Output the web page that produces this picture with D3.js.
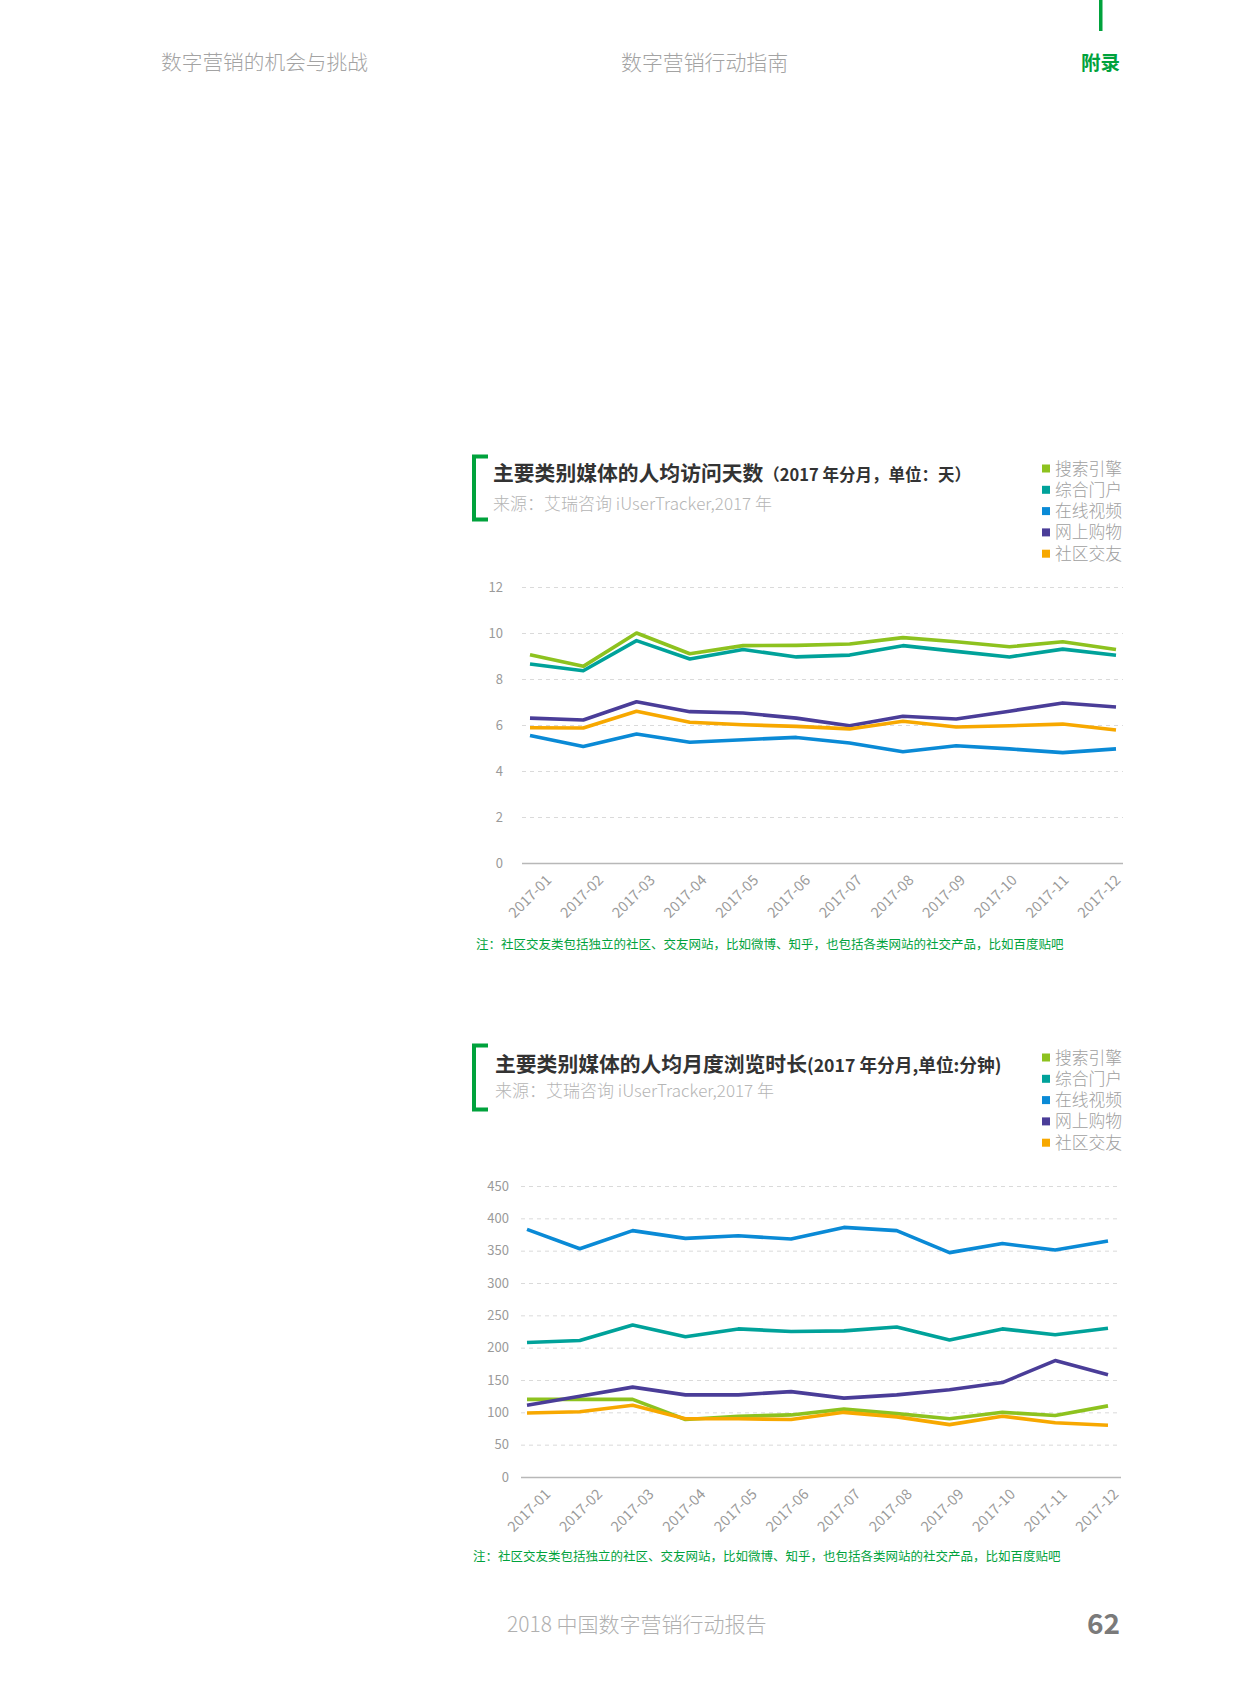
<!DOCTYPE html>
<html><head><meta charset="utf-8">
<script src="https://cdn.jsdelivr.net/npm/d3@7"></script>
<style>
html,body{margin:0;padding:0;background:#fff;}
svg{display:block;}
</style></head>
<body>
<svg id="page" width="1240" height="1683"></svg>
<script>
// ---------- data ----------
const months = ["2017-01","2017-02","2017-03","2017-04","2017-05","2017-06","2017-07","2017-08","2017-09","2017-10","2017-11","2017-12"];
const seriesNames = ["搜索引擎","综合门户","在线视频","网上购物","社区交友"];
const seriesColors = ["#8dc21f","#00a29a","#0a8ad6","#4a3d98","#f7a800"];

// chart 1: 人均访问天数
const days_search  = [9.05,8.55,10.0,9.1,9.45,9.46,9.52,9.8,9.62,9.4,9.62,9.28];
const days_portal  = [8.65,8.36,9.67,8.87,9.28,8.96,9.04,9.45,9.2,8.96,9.3,9.03];
const days_video   = [5.54,5.07,5.61,5.25,5.36,5.46,5.22,4.84,5.1,4.96,4.8,4.96];
const days_shop    = [6.3,6.22,7.01,6.58,6.52,6.3,5.97,6.38,6.26,6.6,6.96,6.78];
const days_social  = [5.88,5.87,6.6,6.12,6.01,5.94,5.83,6.16,5.91,5.97,6.04,5.78];
const days_ticks   = [0,2,4,6,8,10,12];

// chart 2: 人均月度浏览时长（分钟）
const mins_search  = [120,120,120,89,94,96,105,98,90,100,95,110];
const mins_portal  = [208,211,235,217,229,225,226,232,212,229,220,230];
const mins_video   = [383,353,381,369,373,368,386,381,347,361,351,365];
const mins_shop    = [111,125,139,127,127,132,122,127,135,146,180,158];
const mins_social  = [99,101,111,90,90,89,100,93,81,94,84,80];
const mins_ticks   = [0,50,100,150,200,250,300,350,400,450];

const note = "注：社区交友类包括独立的社区、交友网站，比如微博、知乎，也包括各类网站的社交产品，比如百度贴吧";

// ---------- drawing ----------
const svg = d3.select("#page");
const CJK = "'Noto Sans CJK SC','Noto Sans',sans-serif";
const NUM = "'Liberation Sans Narrow','Noto Sans CJK SC',sans-serif";
const GREEN = "#00a23c";

// header
svg.append("rect").attr("x",1099).attr("y",0).attr("width",3.5).attr("height",31).attr("fill",GREEN);
svg.append("text").attr("x",161).attr("y",70).attr("font-family",CJK).attr("font-weight",300)
  .attr("font-size",20.7).attr("fill","#a3a3a3").text("数字营销的机会与挑战");
svg.append("text").attr("x",621).attr("y",70).attr("font-family",CJK).attr("font-weight",300)
  .attr("font-size",20.9).attr("fill","#a3a3a3").text("数字营销行动指南");
svg.append("text").attr("x",1081).attr("y",70).attr("font-family",CJK).attr("font-weight",700)
  .attr("font-size",19.5).attr("fill",GREEN).text("附录");

// footer
svg.append("text").attr("x",507).attr("y",1632).attr("font-family",CJK).attr("font-weight",300)
  .attr("font-size",21).attr("fill","#b0b0b0").text("2018 中国数字营销行动报告");
svg.append("text").attr("x",1120).attr("y",1634).attr("text-anchor","end").attr("font-family",NUM).attr("font-weight",700)
  .attr("font-size",28).attr("fill","#7a7a7a").text("62");

function drawChart(cfg){
  const g = svg.append("g");
  // bracket
  const b = cfg.bracket;
  g.append("path").attr("d",`M${b.x+16},${b.y0+1.5} H${b.x+2} V${b.y1-1.5} H${b.x+16}`)
    .attr("fill","none").attr("stroke",GREEN).attr("stroke-width",4);
  // title
  const t = g.append("text").attr("x",cfg.titleX).attr("y",cfg.titleY).attr("font-family",CJK).attr("font-weight",700).attr("fill","#333");
  t.append("tspan").attr("font-size",20.8).text(cfg.title);
  t.append("tspan").attr("font-size",cfg.subSize).text(cfg.titleSub);
  g.append("text").attr("x",cfg.titleX).attr("y",cfg.sourceY).attr("font-family",CJK).attr("font-weight",300)
    .attr("font-size",17).attr("fill","#b5b5b5").text("来源：艾瑞咨询 iUserTracker,2017 年");
  // legend
  seriesNames.forEach((n,i)=>{
    const ly = cfg.legendY + i*21.3;
    g.append("rect").attr("x",1042).attr("y",ly-4).attr("width",8).attr("height",8).attr("fill",seriesColors[i]);
    g.append("text").attr("x",1055).attr("y",ly+6).attr("font-family",CJK).attr("font-weight",300)
      .attr("font-size",16.8).attr("fill","#a0a0a0").text(n);
  });
  // scales
  const x = d3.scalePoint().domain(months).range(cfg.xRange);
  const xl = d3.scalePoint().domain(months).range(cfg.labelRange);
  const y = d3.scaleLinear().domain([0, cfg.ticks[cfg.ticks.length-1]]).range(cfg.yRange);
  // grid
  const gridAxis = d3.axisLeft(y).tickValues(cfg.ticks).tickSize(-(cfg.gridX1-cfg.gridX0)).tickFormat("");
  const gg = g.append("g").attr("transform",`translate(${cfg.gridX0},0)`).call(gridAxis);
  gg.select(".domain").remove();
  gg.selectAll(".tick line").attr("stroke","#dadada").attr("stroke-width",1).attr("stroke-dasharray","4,4")
    .filter(d=>d===0).attr("stroke","#b8b8b8").attr("stroke-width",1.5).attr("stroke-dasharray",null);
  // y labels
  const ya = d3.axisLeft(y).tickValues(cfg.ticks).tickSize(0).tickPadding(0);
  const yg = g.append("g").attr("transform",`translate(${cfg.yLabelX},0)`).call(ya);
  yg.select(".domain").remove();
  yg.selectAll("text").attr("font-family",NUM).attr("font-size",13).attr("fill","#9a9a9a");
  // x labels
  const xa = d3.axisBottom(xl).tickSize(0).tickPadding(0);
  const xg = g.append("g").attr("transform",`translate(0,${cfg.yRange[0]})`).call(xa);
  xg.select(".domain").remove();
  xg.selectAll("text").attr("font-family",NUM).attr("font-size",14.5).attr("fill","#9a9a9a")
    .attr("text-anchor","end").attr("dy",null).attr("y",null)
    .attr("transform","translate(0,18) rotate(-45)");
  // lines
  const line = d3.line().x((d,i)=>x(months[i])).y(d=>y(d));
  cfg.series.forEach((s,i)=>{
    g.append("path").datum(s).attr("d",line).attr("fill","none")
      .attr("stroke",seriesColors[i]).attr("stroke-width",3.6).attr("stroke-linejoin","round");
  });
  // note
  g.append("text").attr("x",cfg.noteX).attr("y",cfg.noteY).attr("font-family",CJK).attr("font-size",12.5)
    .attr("fill",GREEN).text(note);
}

drawChart({
  bracket:{x:472,y0:455,y1:521},
  titleX:493, titleY:481, sourceY:510, subSize:16.5,
  title:"主要类别媒体的人均访问天数", titleSub:"（2017 年分月，单位：天）",
  legendY:468.5,
  xRange:[530,1116], labelRange:[552,1121], yRange:[863,587], gridX0:522, gridX1:1123, yLabelX:503,
  ticks:days_ticks,
  series:[days_search,days_portal,days_video,days_shop,days_social],
  noteX:476, noteY:949
});

drawChart({
  bracket:{x:472,y0:1044,y1:1111},
  titleX:495, titleY:1072, sourceY:1097, subSize:17.7,
  title:"主要类别媒体的人均月度浏览时长", titleSub:"(2017 年分月,单位:分钟)",
  legendY:1057.5,
  xRange:[527,1108], labelRange:[551,1119], yRange:[1477,1186], gridX0:521, gridX1:1121, yLabelX:509,
  ticks:mins_ticks,
  series:[mins_search,mins_portal,mins_video,mins_shop,mins_social],
  noteX:473, noteY:1561
});
</script>
</body></html>
